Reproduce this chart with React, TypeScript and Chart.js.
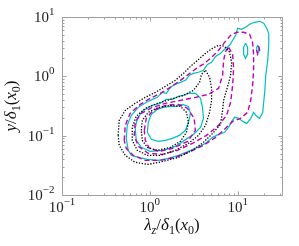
import React, { useEffect, useRef } from "react";
import { Chart, registerables } from "chart.js";

Chart.register(...registerables);

// axis ranges
const xRange = [0.1, 32];
const yRange = [0.01, 10];
const xMajorTicks = [0.1, 1, 10];
const xTickExponents = ["\u22121", "0", "1"];
const yMajorTicks = [0.01, 0.1, 1, 10];
const yTickExponents = ["\u22122", "\u22121", "0", "1"];

// contour lines, [lambda_z/delta_1, y/delta_1] pairs
const blackOuter = [
  [0.436, 0.101], [0.448, 0.181], [0.525, 0.267], [0.682, 0.351], [0.889, 0.443], [1.156, 0.537],
  [1.503, 0.678], [1.955, 0.857], [2.415, 1.12], [2.9, 1.47], [3.49, 1.86], [4.31, 2.44], [5.18, 2.97],
  [6.07, 3.33], [7.1, 3.21], [8.11, 2.54], [8.54, 1.72], [8.32, 1.04], [7.69, 0.67], [6.92, 0.394],
  [6.74, 0.267], [6.39, 0.155], [5.18, 0.109], [4.08, 0.0771], [3.06, 0.0567], [2.116, 0.0431],
  [1.426, 0.0369], [0.961, 0.0328], [0.682, 0.0355], [0.525, 0.0466], [0.448, 0.0686]
];
const blackMiddle = [
  [4.31, 1.26], [4.79, 0.962], [5.05, 0.628], [5.05, 0.394], [4.79, 0.247], [4.31, 0.149], [3.58, 0.101],
  [2.754, 0.0742], [1.955, 0.0565], [1.318, 0.0466], [0.936, 0.0466], [0.72, 0.0565], [0.631, 0.0833],
  [0.631, 0.138], [0.701, 0.212], [0.889, 0.289], [1.218, 0.351], [1.715, 0.409], [2.415, 0.479],
  [3.14, 0.581], [3.68, 0.792], [3.88, 1.08]
];
const blackInner = [
  [0.8, 0.123], [0.821, 0.181], [0.961, 0.247], [1.25, 0.3], [1.715, 0.324], [2.23, 0.312],
  [2.612, 0.247], [2.754, 0.168], [2.612, 0.114], [2.23, 0.0802], [1.715, 0.0635], [1.218, 0.0565],
  [0.936, 0.0635], [0.821, 0.0833]
];

const magentaOuter = [
  [0.511, 0.0833], [0.525, 0.149], [0.598, 0.238], [0.778, 0.337], [1.01, 0.426], [1.318, 0.517],
  [1.715, 0.653], [2.23, 0.857], [2.754, 1.08], [3.4, 1.365], [4.2, 1.66], [5.05, 2.09], [6.07, 2.74],
  [7.1, 3.74], [8.32, 4.91], [9.75, 5.52], [11.7, 5.52], [13.7, 5.11], [14.8, 3.74], [15.2, 2.26],
  [15.2, 1.26], [14.8, 0.705], [14.1, 0.394], [13.0, 0.247], [10.8, 0.196], [8.77, 0.174], [7.29, 0.133],
  [5.61, 0.0936], [4.08, 0.0686], [2.9, 0.0543], [1.955, 0.0431], [1.318, 0.0383], [0.889, 0.0383],
  [0.647, 0.0466], [0.539, 0.0611]
];
const magentaMiddle = [
  [7.89, 3.08], [8.77, 2.35], [9.0, 1.365], [8.77, 0.705], [8.32, 0.365], [7.48, 0.22], [6.07, 0.149],
  [4.42, 0.101], [3.06, 0.0742], [2.06, 0.0565], [1.39, 0.0484], [0.961, 0.0503], [0.739, 0.066],
  [0.665, 0.101], [0.682, 0.168], [0.8, 0.238], [1.07, 0.3], [1.503, 0.351], [2.23, 0.394], [3.31, 0.443],
  [4.66, 0.497], [6.07, 0.628], [6.74, 1.04], [6.92, 1.86], [7.29, 2.64]
];
const magentaInner = [
  [0.865, 0.123], [0.912, 0.196], [1.096, 0.267], [1.503, 0.324], [2.116, 0.337], [2.68, 0.289],
  [3.2, 0.196], [3.3, 0.123], [2.7, 0.0802], [1.808, 0.0611], [1.28, 0.0543], [0.987, 0.0611],
  [0.889, 0.0833]
];
const magentaIsland = [[17.4, 3.21], [17.8, 2.74], [16.9, 2.35], [16.5, 2.74]];

const cyanOuter = [
  [0.568, 0.0565], [0.539, 0.0901], [0.553, 0.149], [0.615, 0.22], [0.739, 0.3], [0.912, 0.365],
  [1.07, 0.409], [1.218, 0.443], [1.39, 0.537], [1.545, 0.517], [1.715, 0.653], [1.955, 0.733],
  [2.23, 0.792], [2.547, 0.857], [2.826, 1.04], [3.14, 1.12], [3.58, 1.17], [4.08, 1.26], [4.54, 1.59],
  [5.05, 1.72], [5.61, 2.17], [6.39, 2.44], [7.29, 2.97], [8.11, 3.33], [8.77, 4.05], [9.49, 4.91],
  [10.0, 6.45], [11.1, 6.2], [12.3, 6.7], [13.7, 7.53], [15.6, 8.14], [17.8, 8.46], [19.8, 7.83],
  [21.4, 6.45], [22.6, 5.31], [22.6, 3.33], [22.0, 1.86], [20.9, 1.04], [20.4, 0.581], [19.8, 0.365],
  [19.3, 0.247], [17.8, 0.196], [16.5, 0.212], [15.2, 0.247], [14.1, 0.196], [12.7, 0.161],
  [11.4, 0.174], [10.3, 0.196], [9.24, 0.204], [8.54, 0.174], [7.89, 0.138], [7.1, 0.114], [6.07, 0.105],
  [5.18, 0.0936], [4.31, 0.0742], [3.49, 0.0635], [2.754, 0.0543], [2.116, 0.0466], [1.626, 0.0414],
  [1.25, 0.0383], [0.936, 0.0398], [0.739, 0.0431], [0.615, 0.0466]
];
const cyanMiddle = [
  [2.754, 0.517], [3.31, 0.517], [3.78, 0.426], [3.98, 0.3], [4.08, 0.196], [3.78, 0.138], [3.14, 0.105],
  [2.48, 0.0833], [1.955, 0.066], [1.426, 0.0565], [1.01, 0.0543], [0.8, 0.0635], [0.701, 0.0833],
  [0.682, 0.133], [0.72, 0.196], [0.843, 0.267], [1.07, 0.324], [1.318, 0.351], [1.545, 0.409],
  [1.808, 0.409], [2.116, 0.46], [2.415, 0.479]
];
const cyanInner = [
  [0.936, 0.114], [0.961, 0.168], [1.04, 0.229], [1.218, 0.278], [1.426, 0.3], [1.715, 0.312],
  [2.01, 0.312], [2.35, 0.337], [2.754, 0.312], [2.9, 0.238], [2.754, 0.168], [2.547, 0.123],
  [2.17, 0.101], [1.808, 0.0901], [1.503, 0.0833], [1.25, 0.0802], [1.04, 0.0867]
];
const cyanIslandA = [[12.3, 3.6], [13.0, 3.08], [13.0, 2.35], [12.3, 2.01], [11.7, 2.35], [11.7, 3.08]];
const cyanIslandB = [[16.9, 3.33], [17.4, 2.97], [17.4, 2.54], [16.9, 2.44], [16.5, 2.74], [16.5, 3.08]];

const BLACK = "#000000";
const MAGENTA = "#bf00bf";
const CYAN = "#00bfbf";

function closed(pts: number[][]) {
  const arr = pts.map(([x, y]) => ({ x, y }));
  arr.push({ x: pts[0][0], y: pts[0][1] });
  return arr;
}

function ds(pts: number[][], color: string, dash: number[], width: number) {
  return {
    data: closed(pts),
    showLine: true,
    borderColor: color,
    borderWidth: width,
    borderDash: dash,
    pointRadius: 0,
    fill: false,
    tension: 0,
  };
}

const SERIF = '"Liberation Serif", "DejaVu Serif", serif';

function minorTicks(min: number, max: number) {
  const out: number[] = [];
  for (let d = Math.pow(10, Math.floor(Math.log10(min))); d < max; d *= 10) {
    for (let k = 2; k <= 9; k++) {
      const v = k * d;
      if (v > min && v < max) out.push(v);
    }
  }
  return out;
}

const framePlugin = {
  id: "frameAxes",
  afterDraw(chart: any) {
    const { ctx, chartArea: a, scales } = chart;
    const xs = scales.x;
    const ys = scales.y;
    ctx.save();
    ctx.strokeStyle = "#a0a0a0";
    ctx.lineWidth = 1;
    const L = Math.round(a.left) + 0.5;
    const R = Math.round(a.right) + 0.5;
    const T = Math.round(a.top) + 0.5;
    const B = Math.round(a.bottom) + 0.5;
    ctx.strokeRect(L, T, R - L, B - T);
    ctx.beginPath();
    const drawX = (v: number, len: number) => {
      const p = Math.round(xs.getPixelForValue(v)) + 0.5;
      ctx.moveTo(p, B); ctx.lineTo(p, B - len);
      ctx.moveTo(p, T); ctx.lineTo(p, T + len);
    };
    const drawY = (v: number, len: number) => {
      const p = Math.round(ys.getPixelForValue(v)) + 0.5;
      ctx.moveTo(L, p); ctx.lineTo(L + len, p);
      ctx.moveTo(R, p); ctx.lineTo(R - len, p);
    };
    xMajorTicks.forEach((v) => drawX(v, 4));
    minorTicks(xRange[0], xRange[1]).forEach((v) => drawX(v, 2));
    yMajorTicks.forEach((v) => drawY(v, 4));
    minorTicks(yRange[0], yRange[1]).forEach((v) => drawY(v, 2));
    ctx.stroke();

    // tick labels
    ctx.fillStyle = "#222";
    ctx.textBaseline = "alphabetic";
    const big = `15px ${SERIF}`;
    const small = `11px ${SERIF}`;
    xMajorTicks.forEach((v, i) => {
      const p = xs.getPixelForValue(v);
      ctx.font = big;
      const w1 = ctx.measureText("10").width;
      ctx.font = small;
      const w2 = ctx.measureText(xTickExponents[i]).width;
      const start = p - (w1 + w2) / 2;
      ctx.font = big;
      ctx.fillText("10", start, B + 16);
      ctx.font = small;
      ctx.fillText(xTickExponents[i], start + w1, B + 9);
    });
    yMajorTicks.forEach((v, i) => {
      const p = ys.getPixelForValue(v);
      ctx.font = small;
      const w2 = ctx.measureText(yTickExponents[i]).width;
      ctx.font = big;
      const w1 = ctx.measureText("10").width;
      const end = L - 8;
      ctx.font = big;
      ctx.fillText("10", end - w2 - w1, p + 5);
      ctx.font = small;
      ctx.fillText(yTickExponents[i], end - w2, p - 2);
    });

    // axis titles with sub-scripts
    const drawRuns = (runs: [string, string, number][], cx: number, cy: number) => {
      let total = 0;
      runs.forEach(([t, f]) => { ctx.font = f; total += ctx.measureText(t).width; });
      let xp = cx - total / 2;
      runs.forEach(([t, f, dy]) => {
        ctx.font = f;
        ctx.fillText(t, xp, cy + dy);
        xp += ctx.measureText(t).width;
      });
    };
    const it = `italic 17px ${SERIF}`;
    const rm = `17px ${SERIF}`;
    const itS = `italic 12px ${SERIF}`;
    const rmS = `12px ${SERIF}`;
    ctx.fillStyle = "#111";
    drawRuns([
      ["\u03bb", it, 0], ["z", itS, 4], ["/", rm, 0], ["\u03b4", it, 0], ["1", rmS, 4],
      ["(", rm, 0], ["x", it, 0], ["0", rmS, 4], [")", rm, 0]
    ], (a.left + a.right) / 2, 230);
    ctx.save();
    ctx.translate(16, (a.top + a.bottom) / 2);
    ctx.rotate(-Math.PI / 2);
    drawRuns([
      ["y", it, 0], ["/", rm, 0], ["\u03b4", it, 0], ["1", rmS, 4],
      ["(", rm, 0], ["x", it, 0], ["0", rmS, 4], [")", rm, 0]
    ], 0, 0);
    ctx.restore();
    ctx.restore();
  },
};

export default function App() {
  const ref = useRef<HTMLCanvasElement>(null);
  useEffect(() => {
    document.body.style.margin = "0";
    const dotted = [1.3, 1.6];
    const dashed = [5, 3];
    const chart = new Chart(ref.current as HTMLCanvasElement, {
      type: "scatter",
      data: {
        datasets: [
          ds(blackOuter, BLACK, dotted, 1.3),
          ds(blackMiddle, BLACK, dotted, 1.3),
          ds(blackInner, BLACK, dotted, 1.3),
          ds(magentaOuter, MAGENTA, dashed, 1.4),
          ds(magentaMiddle, MAGENTA, dashed, 1.4),
          ds(magentaInner, MAGENTA, dashed, 1.4),
          ds(magentaIsland, MAGENTA, dashed, 1.4),
          ds(cyanOuter, CYAN, [], 1.2),
          ds(cyanMiddle, CYAN, [], 1.2),
          ds(cyanInner, CYAN, [], 1.2),
          ds(cyanIslandA, CYAN, [], 1.2),
          ds(cyanIslandB, CYAN, [], 1.2),
        ] as any,
      },
      options: {
        animation: false,
        responsive: false,
        devicePixelRatio: 1,
        layout: { padding: { left: 62, top: 17, right: 17, bottom: 51 } },
        plugins: { legend: { display: false }, tooltip: { enabled: false } },
        scales: {
          x: { type: "logarithmic", min: xRange[0], max: xRange[1], display: false },
          y: { type: "logarithmic", min: yRange[0], max: yRange[1], display: false },
        },
      },
      plugins: [framePlugin],
    });
    return () => chart.destroy();
  }, []);
  return <canvas ref={ref} width={299} height={246} style={{ display: "block" }} />;
}
